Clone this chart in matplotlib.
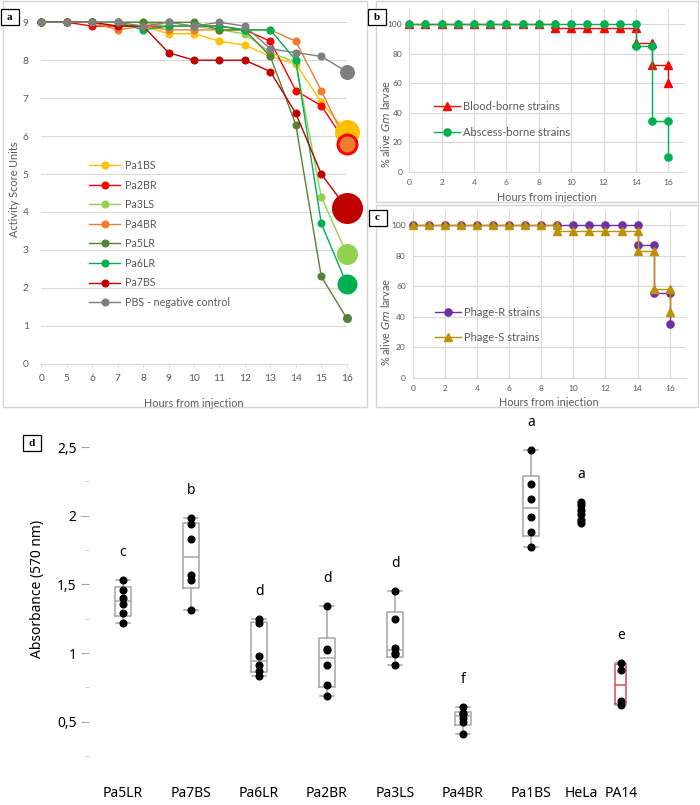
import numpy as np
import matplotlib
matplotlib.use('Agg')
import matplotlib.pyplot as plt
from matplotlib.patches import Rectangle
from matplotlib.cbook import boxplot_stats

plt.rcParams['font.family'] = ['Lato', 'DejaVu Sans']

# ---- panel a: activity score per strain
hours = ['0', '5', '6', '7', '8', '9', '10', '11', '12', '13', '14', '15', '16']
strains = ['Pa1BS', 'Pa2BR', 'Pa3LS', 'Pa4BR', 'Pa5LR', 'Pa6LR', 'Pa7BS', 'PBS - negative control']
pa1bs = [9, 9, 9, 8.9, 8.9, 8.7, 8.7, 8.5, 8.4, 8.1, 7.9, 6.9, 6.1]
pa2br = [9, 9, 8.9, 8.9, 8.9, 8.9, 8.9, 8.9, 8.8, 8.5, 7.2, 6.8, 5.8]
pa3ls = [9, 9, 9, 9, 9, 8.9, 8.9, 8.8, 8.7, 8.2, 7.95, 4.4, 2.9]
pa4br = [9, 9, 9, 8.8, 8.9, 8.8, 8.8, 8.8, 8.8, 8.8, 8.5, 7.2, 5.8]
pa5lr = [9, 9, 9, 9, 9, 9, 9, 8.8, 8.8, 8.1, 6.3, 2.3, 1.2]
pa6lr = [9, 9, 9, 9, 8.8, 8.9, 8.9, 8.9, 8.8, 8.8, 8.0, 3.7, 2.1]
pa7bs = [9, 9, 9, 8.9, 8.9, 8.2, 8.0, 8.0, 8.0, 7.7, 6.6, 5.0, 4.1]
pbs = [9, 9, 9, 9, 8.9, 9, 8.9, 9, 8.9, 8.3, 8.2, 8.1, 7.7]

# ---- panels b, c: survival (%)
surv_hours = list(range(17))
blood = [100] * 9 + [97] * 5 + [87, 72, 60]
abscess = [100] * 14 + [85, 34, 10]
phage_r = [100] * 14 + [87, 55.5, 35]
phage_s = [100] * 9 + [96.5] * 5 + [83, 58, 43]

# ---- panel d: absorbance
d_names = ['Pa5LR', 'Pa7BS', 'Pa6LR', 'Pa2BR', 'Pa3LS', 'Pa4BR', 'Pa1BS', 'HeLa', 'PA14']
d_values = [
    [1.22, 1.29, 1.36, 1.40, 1.46, 1.53],
    [1.31, 1.53, 1.57, 1.83, 1.94, 1.98],
    [0.83, 0.87, 0.91, 0.98, 1.22, 1.25],
    [0.69, 0.77, 0.91, 1.02, 1.03, 1.34],
    [0.91, 0.99, 1.00, 1.04, 1.25, 1.45],
    [0.41, 0.50, 0.53, 0.555, 0.56, 0.61],
    [1.77, 1.88, 1.99, 2.12, 2.23, 2.48],
    [1.95, 1.97, 2.01, 2.04, 2.08, 2.10],
    [0.62, 0.65, 0.88, 0.93],
]
d_letters = ['c', 'b', 'd', 'd', 'd', 'f', 'a', 'a', 'e']

W, H = 700, 805
fig = plt.figure(figsize=(W / 100, H / 100), dpi=100)


def fx(px):
    return px / W


def fy(py):
    return 1 - py / H


def axes_px(x0, y0, x1, y1):
    return fig.add_axes([fx(x0), fy(y1), (x1 - x0) / W, (y1 - y0) / H])


def frame(x0, y0, x1, y1):
    fig.patches.append(Rectangle((fx(x0), fy(y1)), (x1 - x0) / W, (y1 - y0) / H,
                                 transform=fig.transFigure, fill=False,
                                 ec='#d4d4d4', lw=1.0))


def tag(cx, cy, letter):
    fig.patches.append(Rectangle((fx(cx - 9), fy(cy + 8)), 18 / W, 16 / H,
                                 transform=fig.transFigure, fc='white',
                                 ec='black', lw=0.9, zorder=5))
    fig.text(fx(cx), fy(cy), letter, ha='center', va='center', fontsize=8,
             family='Liberation Serif', weight='bold', zorder=6)


GRID = '#d9d9d9'
TXT = '#595959'

frame(3, 1, 367, 407)
frame(376, 1, 698, 202)
frame(376, 205, 698, 407)

# ---------------- panel a
ax = axes_px(41.3, 22.3, 346.7, 363.7)
idx = np.arange(len(hours))
series = [pa1bs, pa2br, pa3ls, pa4br, pa5lr, pa6lr, pa7bs, pbs]
colors = ['#FFC000', '#FF0000', '#92D050', '#ED7D31', '#548235', '#00B050', '#C00000', '#7F7F7F']
end_px = [25, 22, 21, 16, 9, 20, 31, 15]
for name, vals, col in zip(strains, series, colors):
    ax.plot(idx, vals, color=col, lw=1.0, marker='o', ms=4.8, clip_on=False, label=name)
for vals, col, d in zip(series, colors, end_px):
    ax.plot(idx[-1], vals[-1], 'o', ms=d * 0.72, color=col, mew=0, clip_on=False, zorder=4)
ax.set_xlim(0, len(hours) - 1)
ax.set_ylim(0, 9)
ax.set_xticks(idx)
ax.set_xticklabels(hours)
ax.set_yticks(range(10))
ax.grid(axis='y', color=GRID, lw=0.8)
ax.set_axisbelow(True)
for s in ['top', 'right', 'left']:
    ax.spines[s].set_visible(False)
ax.spines['bottom'].set_color(GRID)
ax.tick_params(axis='x', length=2.5, color=GRID, labelcolor=TXT, labelsize=7.3, pad=5)
ax.tick_params(axis='y', length=0, labelcolor=TXT, labelsize=7.3, pad=9)
ax.set_xlabel('Hours from injection', color=TXT, fontsize=7.8)
ax.xaxis.set_label_coords(0.5, -0.1)
ax.set_ylabel('Activity Score Units', color=TXT, fontsize=7.8)
ax.yaxis.set_label_coords(-0.07, 0.51)
ax.legend(loc='upper left', bbox_to_anchor=(fx(89), fy(160)), bbox_transform=fig.transFigure,
          frameon=False, fontsize=7.7, handlelength=2.9, handletextpad=0.45,
          labelspacing=0.8, borderpad=0, borderaxespad=0, labelcolor=TXT)
tag(9.5, 17, 'a')


def km_steps(t, s):
    xs, ys = [t[0]], [s[0]]
    for i in range(1, len(t)):
        if s[i] != s[i - 1]:
            xs.append(t[i])
            ys.append(s[i - 1])
        xs.append(t[i])
        ys.append(s[i])
    return xs, ys


def survival_axes(box, curves, leg_top, leg_left, spacing):
    a = axes_px(*box)
    for lab, vals, col, mk in curves:
        xs, ys = km_steps(surv_hours, vals)
        a.plot(xs, ys, color=col, lw=1.0, marker=mk, ms=5.2, label=lab, clip_on=False)
    a.set_xlim(0, 17)
    a.set_ylim(0, 110)
    a.set_xticks(range(0, 17, 2))
    a.set_yticks(range(0, 101, 20))
    a.grid(color=GRID, lw=0.8)
    a.set_axisbelow(True)
    for s in ['top', 'right', 'left']:
        a.spines[s].set_visible(False)
    a.spines['bottom'].set_color(GRID)
    a.tick_params(length=0, labelcolor=TXT, labelsize=6, pad=5)
    a.set_xlabel('Hours from injection', color=TXT, fontsize=7.8)
    a.legend(loc='upper left', bbox_to_anchor=(fx(leg_left), fy(leg_top)),
             bbox_transform=fig.transFigure, frameon=False, fontsize=8,
             handlelength=2.35, handletextpad=0.25, labelspacing=spacing,
             borderpad=0, borderaxespad=0, labelcolor=TXT)
    return a


axb = survival_axes((409.3, 9.2, 684.5, 171.7),
                    [('Blood-borne strains', blood, '#FF0000', '^'),
                     ('Abscess-borne strains', abscess, '#00B050', 'o')], 101, 434, 1.33)
axb.xaxis.set_label_coords(0.5, -0.125)
fig.text(fx(386), fy(124), r'% alive $\it{Gm}$ larvae', rotation=90, ha='center', va='center',
         color=TXT, fontsize=7.8)
tag(377, 17.5, 'b')

axc = survival_axes((412.7, 210, 685.8, 377.7),
                    [('Phage-R strains', phage_r, '#7030A0', 'o'),
                     ('Phage-S strains', phage_s, '#BF9000', '^')], 307, 435, 1.25)
axc.xaxis.set_label_coords(0.5, -0.115)
fig.text(fx(386), fy(322), r'% alive $\it{Gm}$ larvae', rotation=90, ha='center', va='center',
         color=TXT, fontsize=7.8)
tag(377.5, 218, 'c')

# ---------------- panel d
axd = axes_px(89, 412.7, 701, 783.5)
pos = [1, 2, 3, 4, 5, 6, 7, 7.735, 8.32]
widths = [0.235] * 7 + [0.1, 0.157]
edge = ['#A6A6A6'] * 7 + ['#A9D18E', '#D0505A']
stats = []
for vals in d_values:
    st = boxplot_stats(vals, whis=(0, 100))[0]
    st['q1'], st['med'], st['q3'] = np.percentile(vals, [25, 50, 75], method='weibull')
    stats.append(st)
bp = axd.bxp(stats, positions=pos, widths=widths, capwidths=[0.22] * 7 + [0.1, 0.157],
             showfliers=False, patch_artist=False)
for i, col in enumerate(edge):
    bp['boxes'][i].set(color=col, lw=1.1)
    bp['medians'][i].set(color=col, lw=1.1)
    for k in (2 * i, 2 * i + 1):
        bp['whiskers'][k].set(color='#A6A6A6', lw=1.1)
        bp['caps'][k].set(color='#A6A6A6', lw=1.1)
for p, vals, lt in zip(pos, d_values, d_letters):
    axd.plot([p] * len(vals), vals, 'o', color='black', ms=4.8, zorder=4)
    axd.text(p, max(vals) + 0.2, lt, ha='center', va='center', fontsize=10,
             family='Noto Sans')
axd.set_xlim(0.5, 9.5)
axd.set_ylim(0.05, 2.75)
axd.set_xticks(pos)
axd.set_xticklabels(d_names, family='Noto Sans', fontsize=10)
axd.set_yticks([0.5, 1, 1.5, 2, 2.5])
axd.set_yticklabels(['0,5', '1', '1,5', '2', '2,5'], family='Noto Sans', fontsize=10)
axd.set_yticks([0.25, 0.75, 1.25, 1.75, 2.25], minor=True)
for s in axd.spines.values():
    s.set_visible(False)
axd.tick_params(axis='x', length=0, pad=2)
axd.tick_params(axis='y', which='major', length=6, color='#A6A6A6', pad=3)
axd.tick_params(axis='y', which='minor', length=3, color='#C8C8C8')
fig.text(fx(38), fy(589), 'Absorbance (570 nm)', rotation=90, ha='center', va='center',
         fontsize=10, family='Noto Sans')
tag(32, 443, 'd')

fig.savefig('out.png', dpi=100)
